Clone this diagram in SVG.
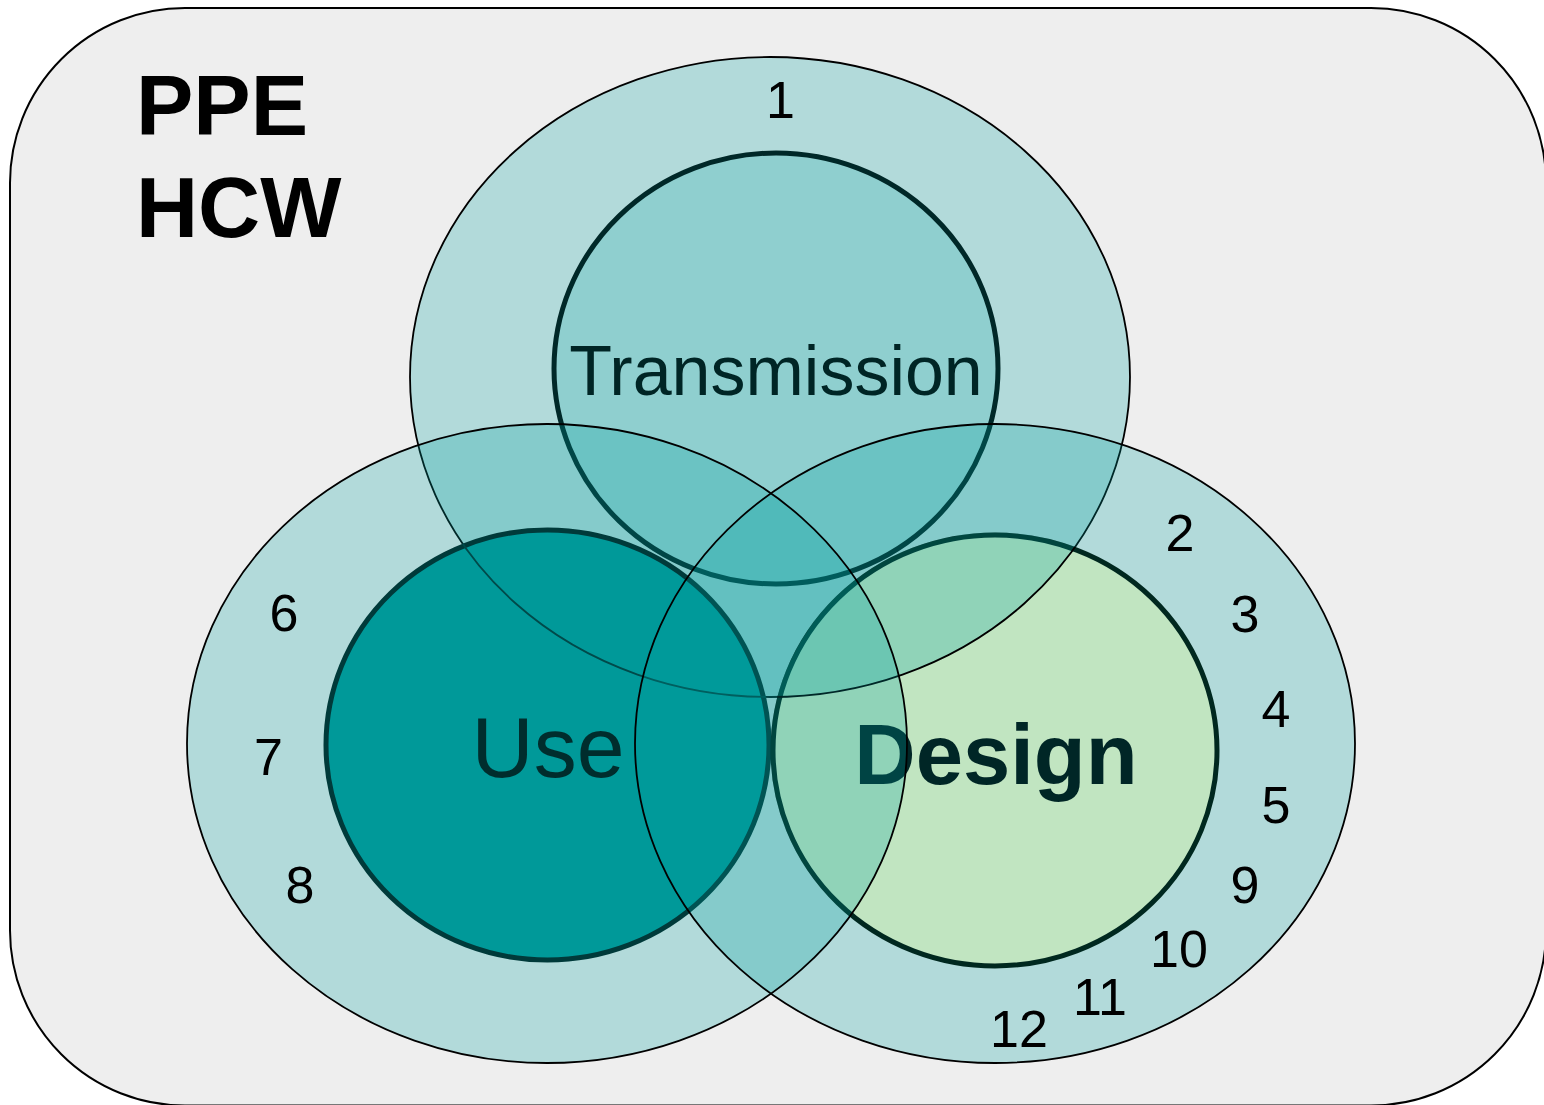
<svg xmlns="http://www.w3.org/2000/svg" width="1544" height="1105" viewBox="0 0 1544 1105">
<style>
.bg{fill:#eeeeee;stroke:#000;stroke-width:2}
.ov{fill:#00a0a0;fill-opacity:0.25;stroke:none}
.ol{fill:none;stroke:#000;stroke-width:1.8}
.num{font-family:"Liberation Sans",Arial,sans-serif;font-size:52px;fill:#000;text-anchor:middle}
.lbl{font-family:"Liberation Sans",Arial,sans-serif;text-anchor:middle}
.title{font-family:"Liberation Sans",Arial,sans-serif;font-size:86px;font-weight:bold;fill:#000}
</style>
<defs>
<clipPath id="clipUse"><ellipse cx="547.5" cy="745" rx="224" ry="217.5"/></clipPath>
<clipPath id="clipDesign"><ellipse cx="995" cy="750.5" rx="224.5" ry="218"/></clipPath>
</defs>
<g id="background">
<rect class="bg" x="10" y="8" width="1536" height="1097.5" rx="175" ry="175"/>
<text class="title" x="136" y="135">PPE</text>
<text class="title" x="136" y="237">HCW</text>
</g>
<g id="top-outer">
<ellipse class="ov" cx="770" cy="377" rx="360" ry="320"/>
<ellipse class="ol" cx="770" cy="377" rx="360" ry="320"/>
</g>
<g id="transmission">
<ellipse cx="776" cy="368.5" rx="222" ry="215.5" fill="#8fcfcf" stroke="#002828" stroke-width="5"/>
<text class="lbl" x="776" y="395" font-size="70" fill="#002525">Transmission</text>
</g>
<g id="left-outer">
<ellipse class="ov" cx="547" cy="743.5" rx="360" ry="319.5"/>
</g>
<g id="use">
<ellipse cx="547.5" cy="745" rx="221.5" ry="215" fill="#009999" stroke="#003a3a" stroke-width="5"/>
<text class="lbl" x="548" y="777" font-size="86" fill="#002d2d">Use</text>
<ellipse cx="770" cy="377" rx="360" ry="320" fill="none" stroke="#004a4a" stroke-width="1.8" clip-path="url(#clipUse)"/>
</g>
<g id="right-outer">
<ellipse class="ov" cx="995" cy="743.5" rx="360" ry="319.5"/>
</g>
<g id="design">
<ellipse cx="995" cy="750.5" rx="222" ry="215.5" fill="#c1e5c1" stroke="#00281f" stroke-width="5"/>
<text class="lbl" x="996" y="784" font-size="85" font-weight="bold" fill="#002626">Design</text>
<g clip-path="url(#clipDesign)">
<ellipse class="ov" cx="770" cy="377" rx="360" ry="320"/>
<ellipse class="ol" cx="770" cy="377" rx="360" ry="320"/>
<ellipse class="ov" cx="547" cy="743.5" rx="360" ry="319.5"/>
</g>
</g>
<g id="connectors">
<ellipse class="ol" cx="547" cy="743.5" rx="360" ry="319.5"/>
<ellipse class="ol" cx="995" cy="743.5" rx="360" ry="319.5"/>
</g>
<g id="numbers">
<text class="num" x="780.5" y="118">1</text>
<text class="num" x="1180" y="551">2</text>
<text class="num" x="1245" y="632">3</text>
<text class="num" x="1276" y="727">4</text>
<text class="num" x="1276" y="823">5</text>
<text class="num" x="284" y="631">6</text>
<text class="num" x="268.5" y="775">7</text>
<text class="num" x="300" y="903">8</text>
<text class="num" x="1245" y="903">9</text>
<text class="num" x="1179" y="967">10</text>
<text class="num" x="1100" y="1015">11</text>
<text class="num" x="1019" y="1047">12</text>
</g>
</svg>
